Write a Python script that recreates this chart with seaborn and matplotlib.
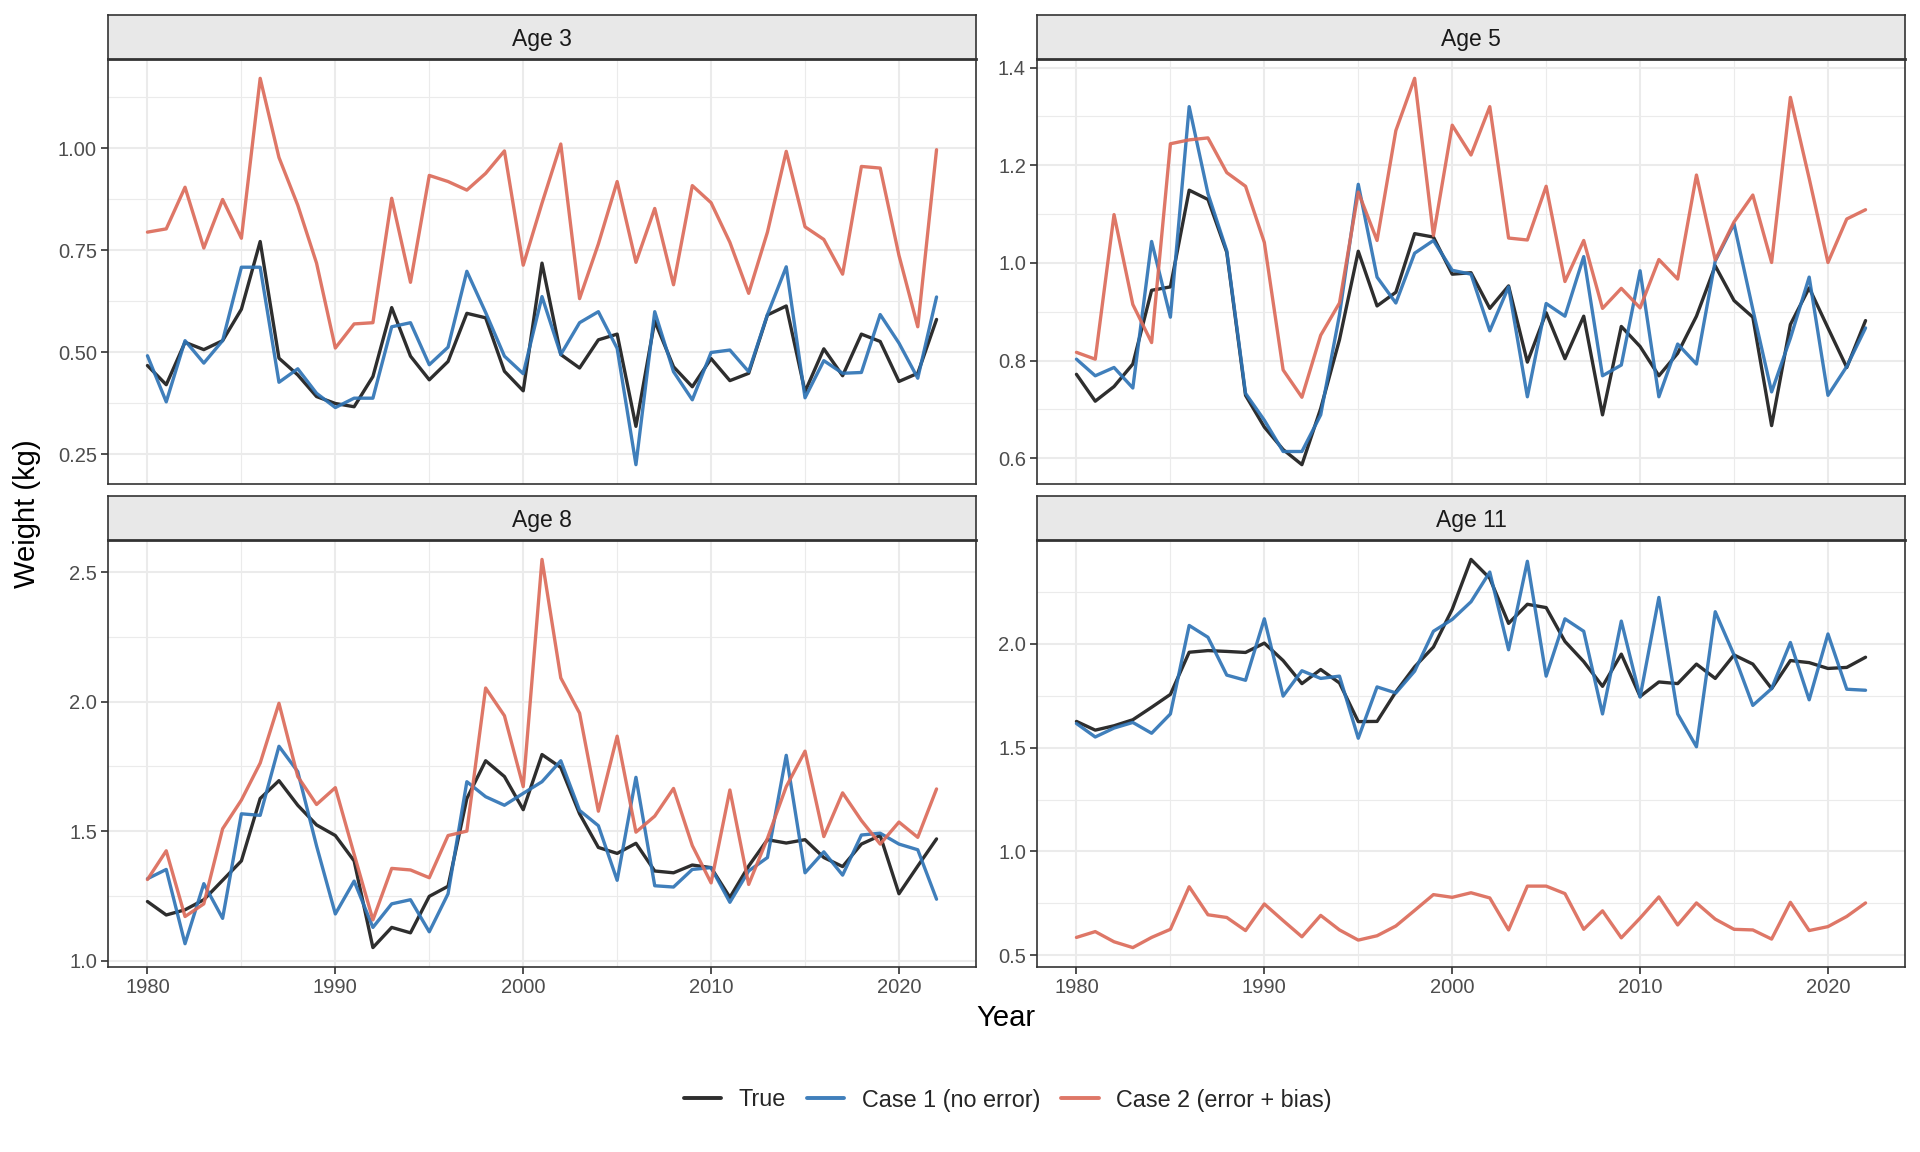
import numpy as np
import pandas as pd
import matplotlib
matplotlib.use("Agg")
import matplotlib.pyplot as plt
from matplotlib.ticker import MultipleLocator, FormatStrFormatter
import seaborn as sns

years = list(range(1980, 2023))
series_names = ["True", "Case 1 (no error)", "Case 2 (error + bias)"]
ages = ["Age 3", "Age 5", "Age 8", "Age 11"]

age3_true = [0.467, 0.420, 0.524, 0.506, 0.528, 0.605, 0.771, 0.485, 0.444, 0.391,
             0.374, 0.366, 0.440, 0.609, 0.490, 0.432, 0.477, 0.595, 0.584, 0.453,
             0.405, 0.718, 0.494, 0.461, 0.530, 0.544, 0.318, 0.576, 0.464, 0.415,
             0.484, 0.430, 0.448, 0.591, 0.613, 0.403, 0.508, 0.442, 0.544, 0.526,
             0.428, 0.448, 0.580]
age3_case1 = [0.491, 0.378, 0.528, 0.473, 0.528, 0.708, 0.708, 0.426, 0.459, 0.399,
              0.364, 0.387, 0.387, 0.562, 0.572, 0.469, 0.512, 0.698, 0.597, 0.490,
              0.447, 0.636, 0.494, 0.572, 0.599, 0.509, 0.224, 0.599, 0.452, 0.383,
              0.499, 0.505, 0.452, 0.592, 0.709, 0.388, 0.479, 0.448, 0.450, 0.592,
              0.522, 0.436, 0.635]
age3_case2 = [0.794, 0.802, 0.904, 0.755, 0.874, 0.779, 1.171, 0.977, 0.860, 0.718,
              0.510, 0.569, 0.572, 0.877, 0.671, 0.933, 0.918, 0.897, 0.938, 0.993,
              0.713, 0.865, 1.010, 0.631, 0.765, 0.918, 0.720, 0.852, 0.665, 0.908,
              0.866, 0.769, 0.644, 0.794, 0.992, 0.807, 0.776, 0.691, 0.955, 0.951,
              0.737, 0.562, 0.996]

age5_true = [0.772, 0.717, 0.747, 0.793, 0.944, 0.951, 1.149, 1.130, 1.022, 0.729,
             0.664, 0.618, 0.587, 0.702, 0.843, 1.024, 0.912, 0.940, 1.060, 1.053,
             0.977, 0.980, 0.907, 0.953, 0.797, 0.898, 0.804, 0.891, 0.689, 0.870,
             0.829, 0.769, 0.815, 0.891, 0.994, 0.923, 0.889, 0.667, 0.874, 0.949,
             0.867, 0.786, 0.882]
age5_case1 = [0.803, 0.769, 0.786, 0.744, 1.044, 0.889, 1.320, 1.142, 1.025, 0.733,
              0.678, 0.614, 0.614, 0.689, 0.894, 1.161, 0.971, 0.918, 1.020, 1.046,
              0.985, 0.977, 0.861, 0.951, 0.726, 0.917, 0.891, 1.013, 0.769, 0.791,
              0.984, 0.726, 0.834, 0.793, 1.004, 1.080, 0.905, 0.736, 0.846, 0.971,
              0.729, 0.788, 0.867]
age5_case2 = [0.817, 0.803, 1.099, 0.915, 0.837, 1.244, 1.252, 1.256, 1.185, 1.157,
              1.042, 0.781, 0.725, 0.852, 0.918, 1.145, 1.046, 1.271, 1.378, 1.056,
              1.282, 1.221, 1.320, 1.051, 1.047, 1.157, 0.962, 1.046, 0.907, 0.948,
              0.908, 1.007, 0.967, 1.180, 1.006, 1.084, 1.139, 1.001, 1.339, 1.173,
              1.001, 1.090, 1.109]

age8_true = [1.228, 1.176, 1.196, 1.235, 1.310, 1.385, 1.626, 1.695, 1.600, 1.524,
             1.483, 1.385, 1.050, 1.128, 1.107, 1.248, 1.287, 1.626, 1.772, 1.711,
             1.583, 1.796, 1.746, 1.567, 1.437, 1.414, 1.453, 1.346, 1.339, 1.369,
             1.359, 1.244, 1.365, 1.467, 1.454, 1.467, 1.398, 1.363, 1.450, 1.483,
             1.258, 1.365, 1.470]
age8_case1 = [1.316, 1.352, 1.065, 1.297, 1.163, 1.567, 1.561, 1.828, 1.730, 1.443,
              1.180, 1.307, 1.128, 1.219, 1.235, 1.111, 1.258, 1.691, 1.633, 1.600,
              1.646, 1.691, 1.772, 1.580, 1.521, 1.310, 1.708, 1.289, 1.284, 1.352,
              1.359, 1.225, 1.346, 1.398, 1.793, 1.339, 1.420, 1.330, 1.485, 1.492,
              1.450, 1.428, 1.237]
age8_case2 = [1.313, 1.424, 1.170, 1.219, 1.509, 1.620, 1.763, 1.994, 1.711, 1.603,
              1.668, 1.411, 1.157, 1.356, 1.350, 1.320, 1.483, 1.500, 2.053, 1.946,
              1.672, 2.550, 2.092, 1.956, 1.577, 1.867, 1.496, 1.558, 1.665, 1.444,
              1.300, 1.659, 1.294, 1.472, 1.672, 1.809, 1.479, 1.648, 1.541, 1.450,
              1.535, 1.476, 1.663]

age11_true = [1.626, 1.584, 1.605, 1.634, 1.694, 1.756, 1.959, 1.967, 1.963, 1.958,
              2.003, 1.919, 1.808, 1.876, 1.811, 1.625, 1.626, 1.768, 1.889, 1.984,
              2.166, 2.406, 2.315, 2.098, 2.190, 2.174, 2.011, 1.914, 1.795, 1.950,
              1.746, 1.816, 1.808, 1.902, 1.833, 1.946, 1.902, 1.784, 1.919, 1.909,
              1.881, 1.886, 1.935]
age11_case1 = [1.616, 1.551, 1.594, 1.621, 1.569, 1.662, 2.088, 2.031, 1.849, 1.824,
               2.120, 1.748, 1.870, 1.833, 1.844, 1.545, 1.792, 1.763, 1.868, 2.060,
               2.117, 2.202, 2.345, 1.971, 2.397, 1.844, 2.120, 2.060, 1.662, 2.109,
               1.743, 2.223, 1.662, 1.504, 2.154, 1.946, 1.703, 1.784, 2.006, 1.730,
               2.047, 1.781, 1.776]
age11_case2 = [0.586, 0.614, 0.565, 0.537, 0.586, 0.625, 0.830, 0.695, 0.682, 0.619,
               0.747, 0.667, 0.589, 0.692, 0.622, 0.573, 0.594, 0.641, 0.716, 0.792,
               0.779, 0.801, 0.776, 0.622, 0.833, 0.833, 0.797, 0.625, 0.714, 0.584,
               0.679, 0.781, 0.646, 0.752, 0.674, 0.625, 0.622, 0.578, 0.755, 0.619,
               0.638, 0.687, 0.752]

y_tick_step = {"Age 3": 0.25, "Age 5": 0.2, "Age 8": 0.5, "Age 11": 0.5}
y_tick_fmt = {"Age 3": "%.2f", "Age 5": "%.1f", "Age 8": "%.1f", "Age 11": "%.1f"}

data = {
    "Age 3": (age3_true, age3_case1, age3_case2),
    "Age 5": (age5_true, age5_case1, age5_case2),
    "Age 8": (age8_true, age8_case1, age8_case2),
    "Age 11": (age11_true, age11_case1, age11_case2),
}
rows = []
for age in ages:
    for name, vals in zip(series_names, data[age]):
        for yr, v in zip(years, vals):
            rows.append({"Age": age, "Series": name, "Year": yr, "Weight": v})
df = pd.DataFrame(rows)

palette = {"True": "#1c1c1c", "Case 1 (no error)": "#2f74b6", "Case 2 (error + bias)": "#dc6b5a"}

sns.set_theme(style="white")
plt.rcParams["font.family"] = ["Liberation Sans", "DejaVu Sans"]

W, H = 1920, 1152
fig = plt.figure(figsize=(19.2, 11.52), dpi=100)

col_x = [(108, 976), (1037, 1905)]
row_y = [(15, 59, 484), (496, 540, 967)]  # strip top, plot top, plot bottom

handles, labels = None, None
for i, age in enumerate(ages):
    r, c = divmod(i, 2)
    x0, x1 = col_x[c]
    st, pt, pb = row_y[r]
    ax = fig.add_axes([x0 / W, 1 - pb / H, (x1 - x0) / W, (pb - pt) / H])
    sub = df[df["Age"] == age]
    sns.lineplot(data=sub, x="Year", y="Weight", hue="Series", hue_order=series_names,
                 palette=palette, linewidth=2.4, alpha=0.92, ax=ax, legend=(i == 0))
    if i == 0:
        handles, labels = ax.get_legend_handles_labels()
        ax.get_legend().remove()
    ax.set_xlabel("")
    ax.set_ylabel("")
    ax.margins(x=0.05, y=0.05)
    ax.xaxis.set_major_locator(MultipleLocator(10))
    ax.xaxis.set_minor_locator(MultipleLocator(5))
    ax.yaxis.set_major_locator(MultipleLocator(y_tick_step[age]))
    ax.yaxis.set_minor_locator(MultipleLocator(y_tick_step[age] / 2))
    ax.yaxis.set_major_formatter(FormatStrFormatter(y_tick_fmt[age]))
    ax.set_axisbelow(True)
    ax.grid(True, which="major", color="#EBEBEB", linewidth=1.5)
    ax.grid(True, which="minor", color="#EBEBEB", linewidth=0.8)
    for sp in ax.spines.values():
        sp.set_color("#333333")
        sp.set_linewidth(1.2)
    ax.tick_params(axis="both", which="major", length=5, width=1.2, color="#333333",
                   labelsize=14.5, labelcolor="#4D4D4D", pad=3)
    ax.tick_params(axis="both", which="minor", length=0)
    ax.tick_params(axis="x", bottom=(r == 1), labelbottom=(r == 1))
    ax.tick_params(axis="y", left=True)

    sax = fig.add_axes([x0 / W, 1 - pt / H, (x1 - x0) / W, (pt - st) / H])
    sax.set_facecolor("#E8E8E8")
    sax.set_xticks([])
    sax.set_yticks([])
    for sp in sax.spines.values():
        sp.set_color("#333333")
        sp.set_linewidth(1.2)
    sax.spines["bottom"].set_linewidth(2.0)
    sax.text(0.5, 0.44, age, ha="center", va="center", fontsize=16.5, color="#1A1A1A",
             transform=sax.transAxes)

fig.text(1006 / W, 1 - 1018 / H, "Year", ha="center", va="center", fontsize=21, color="black")
fig.text(27 / W, 1 - 514 / H, "Weight (kg)", ha="center", va="center", rotation=90,
         fontsize=21, color="black")

leg = fig.legend(handles, labels, loc="center", bbox_to_anchor=(1008 / W, 1 - 1100 / H),
                 ncol=3, frameon=False, fontsize=16.8, handlelength=1.6, handletextpad=0.75,
                 columnspacing=0.9)
for line in leg.get_lines():
    line.set_linewidth(2.8)
    line.set_alpha(0.92)

fig.savefig("out.png", dpi=100, facecolor="white")
